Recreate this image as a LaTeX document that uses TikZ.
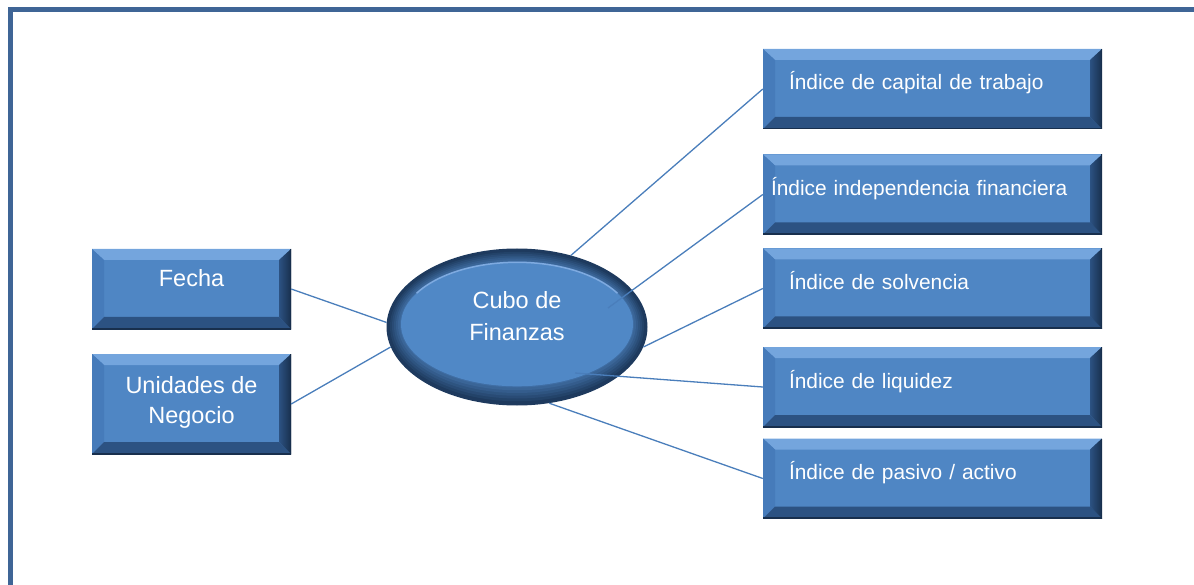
\documentclass[tikz,border=0pt]{standalone}
\usepackage{fontspec}
\setmainfont{Liberation Sans}
\usetikzlibrary{shapes.geometric}

\definecolor{framecol}{HTML}{3F6596}
\definecolor{boxface}{HTML}{4F86C4}
\definecolor{boxlight}{HTML}{74A5DD}
\definecolor{boxleft}{HTML}{467BBA}
\definecolor{boxdark}{HTML}{2C5282}
\definecolor{boxdeep}{HTML}{182F4D}
\definecolor{hubdeep}{HTML}{1E3A5E}
\definecolor{hubface}{HTML}{5088C6}
\definecolor{hubshine}{HTML}{7EAAE0}
\definecolor{linkcol}{HTML}{4A7EBB}

\tikzset{
  bevelbox/.style={rectangle, fill=boxface, inner ysep=0pt, text=white,
    path picture={
      % bevelled edges
      \fill[boxlight] (path picture bounding box.north west) -- (path picture bounding box.north east)
        -- ([shift={(-12pt,-11pt)}]path picture bounding box.north east)
        -- ([shift={(12pt,-11pt)}]path picture bounding box.north west) -- cycle;
      \fill[boxleft] (path picture bounding box.north west) -- (path picture bounding box.south west)
        -- ([shift={(12pt,12pt)}]path picture bounding box.south west)
        -- ([shift={(12pt,-11pt)}]path picture bounding box.north west) -- cycle;
      \fill[boxdark] (path picture bounding box.south west) -- (path picture bounding box.south east)
        -- ([shift={(-12pt,12pt)}]path picture bounding box.south east)
        -- ([shift={(12pt,12pt)}]path picture bounding box.south west) -- cycle;
      \shade[left color=boxdark, right color=boxdeep] (path picture bounding box.north east)
        -- (path picture bounding box.south east)
        -- ([shift={(-12pt,12pt)}]path picture bounding box.south east)
        -- ([shift={(-12pt,-11pt)}]path picture bounding box.north east) -- cycle;
      \draw[boxdeep, line width=2.5pt] (path picture bounding box.south west)
        -- (path picture bounding box.south east) -- (path picture bounding box.north east);
    }},
  indexbox/.style={bevelbox, minimum width=339pt, minimum height=80pt,
    inner xsep=26pt, text width=287pt, align=left, text height=41pt, text depth=39pt,
    font=\fontsize{20.9}{25}\selectfont},
  dimbox/.style={bevelbox, minimum width=199pt, inner xsep=0pt, align=center,
    font=\fontsize{23.5}{30}\selectfont},
  hubnode/.style={ellipse, minimum width=261pt, minimum height=157pt, fill=hubdeep,
    text=white, align=center, text height=40pt, text depth=14pt,
    font=\fontsize{23.5}{32}\selectfont,
    path picture={
      % soft rim
      \foreach \k [evaluate=\k as \pct using 100-\k*11,
                   evaluate=\k as \rx using 129-2*\k,
                   evaluate=\k as \ry using 77-2.3*\k,
                   evaluate=\k as \dy using 0.45*\k] in {0,...,6}
        \fill[hubdeep!\pct!hubface] ([yshift=\dy pt]path picture bounding box.center)
          ellipse [x radius=\rx pt, y radius=\ry pt];
      \fill[hubface] ([yshift=2.7pt]path picture bounding box.center) ellipse [x radius=116pt, y radius=62pt];
      \draw[hubshine, line width=1.5pt] ([yshift=2.7pt]path picture bounding box.center) ++(150:116pt and 62pt)
        arc[start angle=150, end angle=30, x radius=116pt, y radius=62pt];
    }},
  link/.style={draw=linkcol, line width=1.3pt}
}

\begin{document}
\begin{tikzpicture}[x=1pt, y=-1pt]
    \useasboundingbox (0,0) rectangle (1194,585);

    % Frame
    \draw[framecol, line width=5pt] (10,585) -- (10,9.5) -- (1194,9.5);

    % Dimensions
    \node[dimbox, minimum height=80pt, text height=38pt, text depth=42pt] (fecha) at (191.5,289) {Fecha};
    \node[dimbox, minimum height=100pt, text height=69pt, text depth=31pt] (unidades) at (191.5,404) {Unidades de\\Negocio};

    % Cube
    \node[hubnode] (cubo) at (517,327) {Cubo de\\Finanzas};

    % Indices
    \node[indexbox] (capital) at (932.5,89) {Índice de capital de trabajo};
    \node[indexbox, inner xsep=8pt, text width=323pt] (independencia) at (932.5,194.5) {Índice independencia financiera};
    \node[indexbox] (solvencia) at (932.5,288.5) {Índice de solvencia};
    \node[indexbox] (liquidez) at (932.5,387) {Índice de liquidez};
    \node[indexbox] (pasivo) at (932.5,478.5) {Índice de pasivo / activo};

    % Links
    \coordinate (cubo-in1) at (608,308);
    \coordinate (cubo-in2) at (575,373);
    \draw[link] (fecha.east) -- (cubo.178);
    \draw[link] (unidades.east) -- (cubo.189);
    \draw[link] (cubo.53) -- (capital.west);
    \draw[link] (cubo-in1) -- (independencia.west);
    \draw[link] (cubo.-9.5) -- (solvencia.west);
    \draw[link] (cubo-in2) -- (liquidez.west);
    \draw[link] (cubo.-67) -- (pasivo.west);
\end{tikzpicture}
\end{document}
